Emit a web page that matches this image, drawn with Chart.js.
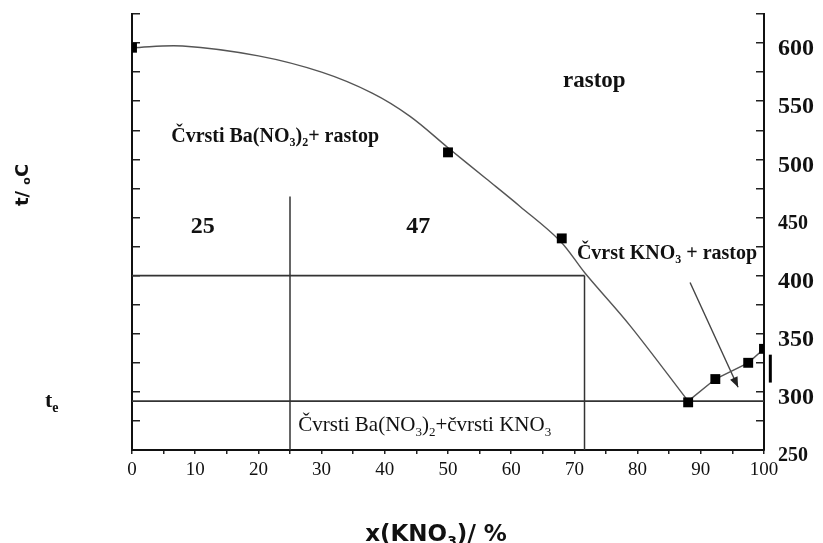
<!DOCTYPE html>
<html>
<head>
<meta charset="utf-8">
<script src="https://cdn.jsdelivr.net/npm/chart.js@4.4.0/dist/chart.umd.min.js"></script>
<style>
html, body { margin: 0; padding: 0; background: #fff; }
#wrap { width: 823px; height: 543px; position: relative; }
</style>
</head>
<body>
<div id="wrap"><canvas id="diagram"></canvas></div>
<script>
// measured points, x(KNO3) in %, t in °C
const pointX = [0, 50, 68, 88, 92.3, 97.5, 100];
const pointT = [596, 506, 432, 291, 311, 325, 337];

// liquidus of Ba(NO3)2 (smooth curve)
const curveX = [0, 8, 20, 30, 38, 44, 50, 56, 61.4, 67.7, 71.7, 78.8, 88];
const curveT = [596, 597.5, 589, 575, 557, 537, 510, 483.5, 459.5, 430, 402, 357, 292];

// liquidus of KNO3
const rightX = [88, 92.3, 97.5, 100];
const rightT = [292, 311, 325, 337];

// construction lines
const eutecticT = 292;
const levelT = 400;
const levelX = [0, 71.6];
const leverX = 25;
const leverTop = 468;
const arrowX = [88.3, 95.9];
const arrowT = [394, 304];
const barX = [101, 101];
const barT = [308, 332];

const xTicks = [0, 10, 20, 30, 40, 50, 60, 70, 80, 90, 100];
const tTicks = [250, 300, 350, 400, 450, 500, 550, 600];

const xy = (xs, ys) => xs.map((x, i) => ({ x: x, y: ys[i] }));

const serif = '"Liberation Serif", "Times New Roman", serif';
const sans = '"DejaVu Sans", "Liberation Sans", sans-serif';
const ink = '#111';

// text drawn inside the plot: [parts, x, t, size, weight, align]
const notes = [
	[[['rastop']], 68.2, 562, 23, 'bold', 'left'],
	[[['Čvrsti Ba(NO'], ['3', 1], [')'], ['2', 1], ['+ rastop']], 6.2, 515, 19.5, 'bold', 'left'],
	[[['25']], 11.2, 436.5, 24, 'bold', 'center'],
	[[['47']], 45.3, 436.5, 24, 'bold', 'center'],
	[[['Čvrst KNO'], ['3', 1], [' + rastop']], 70.4, 414, 19.5, 'bold', 'left'],
	[[['Čvrsti Ba(NO'], ['3', 1], [')'], ['2', 1], ['+čvrsti KNO'], ['3', 1]], 26.3, 266, 21, 'normal', 'left']
];

function rich(ctx, parts, x, y, size, weight, family, align) {
	const fontOf = sub => weight + ' ' + Math.round(sub ? size * 0.62 : size) + 'px ' + family;
	let w = 0;
	parts.forEach(p => { ctx.font = fontOf(p[1]); w += ctx.measureText(p[0]).width; });
	let cx = align === 'center' ? x - w / 2 : x;
	ctx.textAlign = 'left';
	ctx.textBaseline = 'alphabetic';
	parts.forEach(p => {
		ctx.font = fontOf(p[1]);
		ctx.fillText(p[0], cx, y + (p[1] ? size * 0.2 : 0));
		cx += ctx.measureText(p[0]).width;
	});
}

const annotate = {
	id: 'annotate',
	afterDraw(chart) {
		const ctx = chart.ctx;
		const sx = chart.scales.x, sy = chart.scales.y;
		ctx.save();
		ctx.fillStyle = ink;

		notes.forEach(n => rich(ctx, n[0], sx.getPixelForValue(n[1]), sy.getPixelForValue(n[2]), n[3], n[4], serif, n[5]));

		// arrow head
		const x1 = sx.getPixelForValue(arrowX[0]), y1 = sy.getPixelForValue(arrowT[0]);
		const x2 = sx.getPixelForValue(arrowX[1]), y2 = sy.getPixelForValue(arrowT[1]);
		const a = Math.atan2(y2 - y1, x2 - x1);
		ctx.fillStyle = '#222';
		ctx.beginPath();
		ctx.moveTo(x2, y2);
		ctx.lineTo(x2 - 11 * Math.cos(a - 0.38), y2 - 11 * Math.sin(a - 0.38));
		ctx.lineTo(x2 - 11 * Math.cos(a + 0.38), y2 - 11 * Math.sin(a + 0.38));
		ctx.closePath();
		ctx.fill();

		// t_e beside the eutectic line
		ctx.fillStyle = ink;
		rich(ctx, [['t'], ['e', 1]], 45, sy.getPixelForValue(eutecticT) + 6, 22, 'bold', serif, 'left');

		// y title, rotated
		ctx.save();
		ctx.translate(28, 185);
		ctx.rotate(-Math.PI / 2);
		ctx.textBaseline = 'alphabetic';
		ctx.textAlign = 'left';
		ctx.font = 'bold 18px ' + sans;
		const p1 = 't/ ';
		const w1 = ctx.measureText(p1).width;
		ctx.font = 'bold 11px ' + sans;
		const w2 = ctx.measureText('o').width;
		ctx.font = 'bold 18px ' + sans;
		const w3 = ctx.measureText('C').width;
		let tx = -(w1 + w2 + w3) / 2;
		ctx.fillText(p1, tx, 0); tx += w1;
		ctx.font = 'bold 11px ' + sans;
		ctx.fillText('o', tx, 2); tx += w2;
		ctx.font = 'bold 18px ' + sans;
		ctx.fillText('C', tx, 0);
		ctx.restore();

		// x title
		rich(ctx, [['x(KNO'], ['3', 1], [')/ %']], 436, 541, 23, 'bold', sans, 'center');
		ctx.restore();
	}
};

const lineSet = (data, extra) => Object.assign({
	data: data,
	showLine: true,
	borderColor: '#333',
	borderWidth: 1.5,
	pointRadius: 0,
	tension: 0,
	fill: false
}, extra || {});

const noPadY = s => { s.paddingTop = 0; s.paddingBottom = 0; };

const chart = new Chart(document.getElementById('diagram'), {
	type: 'scatter',
	data: {
		datasets: [
			{
				data: xy(pointX, pointT),
				pointStyle: 'rect',
				pointRadius: 7,
				backgroundColor: '#000',
				borderColor: '#000',
				borderWidth: 0,
				showLine: false
			},
			lineSet(xy(curveX, curveT), { tension: 0.35, borderColor: '#555', borderWidth: 1.4 }),
			lineSet(xy(rightX, rightT), { borderColor: '#555', borderWidth: 1.4 }),
			lineSet(xy(levelX, [levelT, levelT]), { borderWidth: 1.8 }),
			lineSet(xy([0, 100], [eutecticT, eutecticT]), { borderWidth: 1.8 }),
			lineSet(xy([leverX, leverX], [250, leverTop])),
			lineSet(xy([levelX[1], levelX[1]], [250, levelT])),
			lineSet(xy(arrowX, arrowT), { borderColor: '#444', borderWidth: 1.4 }),
			lineSet(xy(barX, barT), { borderColor: '#000', borderWidth: 3, clip: false })
		]
	},
	options: {
		responsive: true,
		maintainAspectRatio: false,
		animation: false,
		layout: { padding: { top: 14, left: 0, right: 0, bottom: 0 } },
		plugins: { legend: { display: false }, tooltip: { enabled: false } },
		scales: {
			x: {
				type: 'linear',
				min: 0,
				max: 100,
				afterFit: s => { s.height = 93; s.paddingLeft = 0; s.paddingRight = 0; },
				afterBuildTicks: s => { s.ticks = Array.from({ length: 21 }, (_, i) => ({ value: i * 5 })); },
				ticks: {
					autoSkip: false,
					maxRotation: 0,
					padding: 5,
					color: ink,
					font: { family: serif, size: 19 },
					callback: v => xTicks.includes(v) ? v : ''
				},
				grid: { drawOnChartArea: false, drawTicks: true, tickLength: 4, color: '#222', lineWidth: 1.5 },
				border: { display: true, color: '#111', width: 2 }
			},
			y: {
				position: 'right',
				min: 250,
				max: 625,
				afterFit: s => { s.width = 59; noPadY(s); },
				afterBuildTicks: s => { s.ticks = Array.from({ length: 16 }, (_, i) => ({ value: 250 + i * 25 })); },
				ticks: {
					autoSkip: false,
					padding: 22,
					labelOffset: 6,
					color: ink,
					font: c => ({ family: serif, weight: 'bold', size: (c.tick && (c.tick.value === 450 || c.tick.value === 250)) ? 20 : 24 }),
					callback: v => tTicks.includes(v) ? v : ''
				},
				grid: { drawOnChartArea: false, drawTicks: true, tickLength: -8, color: '#222', lineWidth: 1.5 },
				border: { display: true, color: '#111', width: 2 }
			},
			yl: {
				position: 'left',
				min: 250,
				max: 625,
				afterFit: s => { s.width = 132; noPadY(s); },
				afterBuildTicks: s => { s.ticks = Array.from({ length: 16 }, (_, i) => ({ value: 250 + i * 25 })); },
				ticks: { display: false },
				grid: { drawOnChartArea: false, drawTicks: true, tickLength: -8, color: '#222', lineWidth: 1.5 },
				border: { display: true, color: '#111', width: 2 }
			}
		}
	},
	plugins: [annotate]
});
</script>
</body>
</html>
